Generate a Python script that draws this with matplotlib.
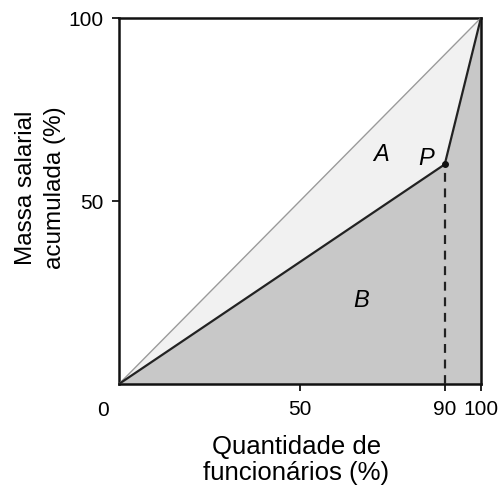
import matplotlib
matplotlib.use("Agg")
import matplotlib.pyplot as plt

plt.rcParams['font.family'] = ['Liberation Sans', 'DejaVu Sans']

curve_x = [0, 90, 100]
curve_y = [0, 60, 100]
diag_x = [0, 100]
diag_y = [0, 100]
xticks = [50, 90, 100]
yticks = [50, 100]
p_point = (90, 60)

fig = plt.figure(figsize=(5.02, 4.89), dpi=100)
ax = fig.add_axes([0.237, 0.2127, 0.721, 0.7485])
ax.set_xlim(0, 100)
ax.set_ylim(0, 100)

# region A (between diagonal and curve)
ax.fill_between(diag_x, diag_y, 0, color='#f1f1f1', zorder=1, linewidth=0)
# region B (below curve)
ax.fill_between(curve_x, curve_y, 0, color='#c8c8c8', zorder=2, linewidth=0)

ax.plot(diag_x, diag_y, color='#9a9a9a', lw=1.0, zorder=3)
ax.plot(curve_x, curve_y, color='#222222', lw=1.6, zorder=4)
ax.plot([p_point[0], p_point[0]], [0, p_point[1]], color='#222222', lw=1.6,
        ls=(0, (4, 3)), zorder=4)
ax.plot([p_point[0]], [p_point[1]], 'o', color='#111111', ms=4, zorder=5)

ax.text(72.5, 63, 'A', fontsize=17, style='italic', ha='center', va='center', zorder=6)
ax.text(85, 62, 'P', fontsize=17, style='italic', ha='center', va='center', zorder=6)
ax.text(67, 23, 'B', fontsize=17, style='italic', ha='center', va='center', zorder=6)

ax.set_xticks(xticks)
ax.set_xticklabels([str(v) for v in xticks])
ax.set_yticks(yticks)
ax.set_yticklabels([str(v) for v in yticks])
ax.tick_params(axis='both', labelsize=15, length=5, width=1.2, direction='out', pad=6)
ax.text(-4.5, -7, '0', fontsize=15, ha='center', va='center', clip_on=False)

for s in ax.spines.values():
    s.set_linewidth(1.8)
    s.set_color('#111111')

ax.set_xlabel('Quantidade de\nfuncionários (%)', fontsize=18.5, labelpad=11, linespacing=1.15)
ax.set_ylabel('Massa salarial\nacumulada (%)', fontsize=17.5, labelpad=2, linespacing=1.4)
ax.yaxis.label.set_y(0.54)
ax.xaxis.label.set_x(0.49)

fig.savefig('out.png', dpi=100)
